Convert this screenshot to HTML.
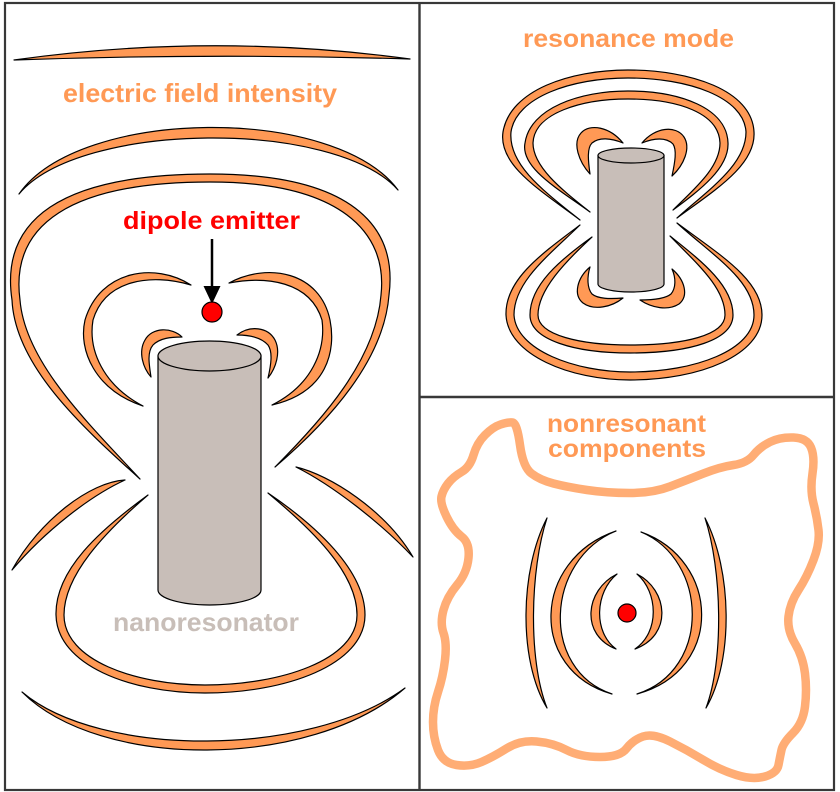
<!DOCTYPE html>
<html>
<head>
<meta charset="utf-8">
<style>
  html, body { margin: 0; padding: 0; background: #ffffff; }
  svg { display: block; }
  .c { fill: #FF9955; stroke: #000; stroke-width: 1.2; stroke-linejoin: round; }
  .t { font-family: "Liberation Sans", Arial, sans-serif; font-weight: bold; }
</style>
</head>
<body>
<svg width="840" height="792" viewBox="0 0 840 792" xmlns="http://www.w3.org/2000/svg">
  <rect x="0" y="0" width="840" height="792" fill="#ffffff"/>

  <!-- ===== LEFT PANEL ===== -->
  <path class="c" d="M14,60 Q212,32 410,59 Q212,53 14,60 Z"/>
  <text class="t" x="63" y="102" font-size="26" fill="#FF9955" textLength="274" lengthAdjust="spacingAndGlyphs">electric field intensity</text>

  <path class="c" d="M19,194 C80,107 335,105 398,190 C335,119 80,121 19,194 Z"/>

  <path class="c" d="M140,479 C80,425 15,365 12,300 C0,220 60,174 210,174 C350,174 398,225 389,295 C384,360 330,420 275,467 C322,420 376,360 381,295 C388,232 340,182 210,182 C70,182 10,225 20,300 C25,362 88,423 140,479 Z"/>

  <text class="t" x="123" y="229" font-size="25" fill="#FF0000" textLength="177" lengthAdjust="spacingAndGlyphs">dipole emitter</text>
  <line x1="212" y1="239" x2="212" y2="292" stroke="#000" stroke-width="2.5"/>
  <polygon points="203.5,286 220.5,286 212,304" fill="#000"/>
  <circle cx="212" cy="312" r="10" fill="#FF0000" stroke="#000" stroke-width="1.2"/>

  <path class="c" d="M191,285 C155,262 100,270 85,320 C78,350 95,390 143,406 C103,385 88,350 93,320 C105,280 150,273 191,285 Z"/>
  <path class="c" d="M229,283 C268,262 320,272 330,320 C336,350 328,392 272,405 C312,385 326,350 322,320 C310,281 266,276 229,283 Z"/>

  <path class="c" d="M182,337 C172,327 152,327 145,340 C138,352 143,368 151,377 C149,364 147,352 153,345 C160,338 171,337 182,337 Z"/>
  <path class="c" d="M237,335 C250,325 268,327 275,340 C281,352 276,368 268,378 C271,365 273,352 268,345 C261,337 249,335 237,335 Z"/>

  <path class="c" d="M125,480 C90,482 40,520 12,570 C45,531 90,496 125,480 Z"/>
  <path class="c" d="M296,467 C330,475 385,510 413,557 C380,522 332,485 296,467 Z"/>

  <path class="c" d="M148,495 C100,530 55,570 56,615 C57,665 130,693 205,693 C285,693 365,665 365,615 C365,570 315,525 268,493 C310,528 357,572 357,615 C357,660 280,685 205,685 C135,685 64,660 64,615 C64,575 105,532 148,495 Z"/>

  <path class="c" d="M22,692 C100,770 310,770 405,688 C310,758 100,758 22,692 Z"/>

  <path d="M158,356 L158,590 A51.5,15 0 0 0 261,590 L261,356 Z" fill="#C8BEB8" stroke="#000" stroke-width="1.2"/>
  <ellipse cx="209.5" cy="356" rx="51.5" ry="15" fill="#C8BEB8" stroke="#000" stroke-width="1.2"/>
  <text class="t" x="113" y="631" font-size="26" fill="#C8BEB8" textLength="186" lengthAdjust="spacingAndGlyphs">nanoresonator</text>

  <!-- ===== RIGHT TOP PANEL ===== -->
  <text class="t" x="523" y="47" font-size="25" fill="#FF9955" textLength="211" lengthAdjust="spacingAndGlyphs">resonance mode</text>

  <path class="c" d="M580,220 C540,190 498,165 503,132 C510,90 570,70 628,70 C690,70 752,90 754,132 C756,165 715,190 677,218 C708,190 746,165 746,132 C744,97 688,78 628,78 C572,78 516,97 511,132 C508,165 545,192 580,220 Z"/>
  <path class="c" d="M590,212 C560,190 520,168 525,143 C530,108 580,91 628,91 C680,91 727,108 728,143 C729,168 700,190 673,210 C693,190 720,168 720,143 C719,113 678,99 628,99 C582,99 534,113 533,143 C533,168 565,192 590,212 Z"/>
  <path class="c" d="M580,225 C540,255 505,280 506,315 C508,355 570,380 630,380 C700,380 762,355 762,315 C762,280 720,255 677,223 C712,255 754,280 754,315 C754,350 695,372 630,372 C575,372 516,350 514,315 C514,282 548,256 580,225 Z"/>
  <path class="c" d="M592,237 C560,260 530,285 530,315 C530,340 575,353 630,353 C690,353 733,340 733,315 C733,285 700,260 670,236 C695,262 725,287 725,315 C725,335 685,345 630,345 C580,345 538,335 538,315 C538,290 565,262 592,237 Z"/>

  <path class="c" d="M623,143 C610,127 590,123 581,133 C572,143 579,162 590,174 C588,160 587,148 592,143 C599,137 611,138 623,143 Z"/>
  <path class="c" d="M642,143 C655,127 676,125 684,137 C691,148 684,165 672,176 C675,162 677,150 673,144 C666,137 654,138 642,143 Z"/>
  <path class="c" d="M590,267 C577,278 573,295 583,303 C594,311 612,307 623,298 C610,299 598,299 592,294 C587,288 587,277 590,267 Z"/>
  <path class="c" d="M672,269 C685,280 689,296 679,304 C668,311 652,308 640,300 C653,300 665,299 671,294 C676,288 676,278 672,269 Z"/>

  <path d="M598,155.5 L598,284 A33,8 0 0 0 664,284 L664,155.5 Z" fill="#C8BEB8" stroke="#000" stroke-width="1.2"/>
  <ellipse cx="631" cy="155.5" rx="33" ry="7.5" fill="#C8BEB8" stroke="#000" stroke-width="1.2"/>

  <!-- ===== RIGHT BOTTOM PANEL ===== -->
  <path d="M500.5,424.5 Q508,422 512.5,422.5 Q517,423 520,445 Q523,467 531.5,473.5 Q540,480 553.5,483.5 Q567,487 587,490 Q607,493 630,493 Q653,493 670,486.5 Q687,480 703.5,473.5 Q720,467 733.5,465 Q747,463 753.5,455 Q760,447 770,442 Q780,437 793.5,437.5 Q807,438 811,447.5 Q815,457 812.5,473.5 Q810,490 813.5,503.5 Q817,517 818.5,530 Q820,543 813.5,560 Q807,577 798.5,590 Q790,603 788.5,616.5 Q787,630 795,643.5 Q803,657 805,673.5 Q807,690 805,706.5 Q803,723 793,733 Q783,743 781.5,750 Q780,757 778.5,765 Q777,773 765,776.5 Q753,780 736.5,775 Q720,770 703.5,760 Q687,750 670,741.5 Q653,733 643,736.5 Q633,740 626.5,748.5 Q620,757 600,757 Q580,757 566.5,750 Q553,743 536.5,741.5 Q520,740 506.5,748.5 Q493,757 481.5,762 Q470,767 456.5,765 Q443,763 438,750 Q433,737 433,722 Q433,707 438,692 Q443,677 445,660 Q447,643 443.5,633 Q440,623 443.5,610 Q447,597 457,585 Q467,573 468.5,558 Q470,543 461.5,536.5 Q453,530 446.5,516.5 Q440,503 441.5,496.5 Q443,490 448,483.5 Q453,477 461.5,472 Q470,467 473.5,455 Q477,443 485,435 Q493,427 500.5,424.5 Z" fill="none" stroke="#FFAD75" stroke-width="8.5" stroke-linejoin="round"/>

  <text class="t" x="547" y="432" font-size="25" fill="#FF9955" textLength="159" lengthAdjust="spacingAndGlyphs">nonresonant</text>
  <text class="t" x="548" y="457" font-size="25" fill="#FF9955" textLength="158" lengthAdjust="spacingAndGlyphs">components</text>

  <path class="c" d="M617,574 C585,590 580,635 616,649 C593,632 595,592 617,574 Z"/>
  <path class="c" d="M637,574 C668,590 673,635 635,649 C660,632 658,592 637,574 Z"/>
  <path class="c" d="M616,531 C532,560 528,670 612,694 C540,670 545,560 616,531 Z"/>
  <path class="c" d="M641,532 C720,560 725,670 637,694 C712,670 708,560 641,532 Z"/>
  <path class="c" d="M547,518 C520,570 518,660 547,708 C528,660 530,570 547,518 Z"/>
  <path class="c" d="M705,518 C732,570 734,660 706,708 C724,660 722,570 705,518 Z"/>
  <circle cx="627" cy="613" r="9" fill="#FF0000" stroke="#000" stroke-width="1.2"/>

  <!-- ===== FRAME ===== -->
  <rect x="5" y="3" width="829" height="787" fill="none" stroke="#383838" stroke-width="2.2"/>
  <line x1="419.5" y1="3" x2="419.5" y2="790" stroke="#383838" stroke-width="2.4"/>
  <line x1="419.5" y1="397" x2="834" y2="397" stroke="#383838" stroke-width="2.4"/>
</svg>
</body>
</html>
